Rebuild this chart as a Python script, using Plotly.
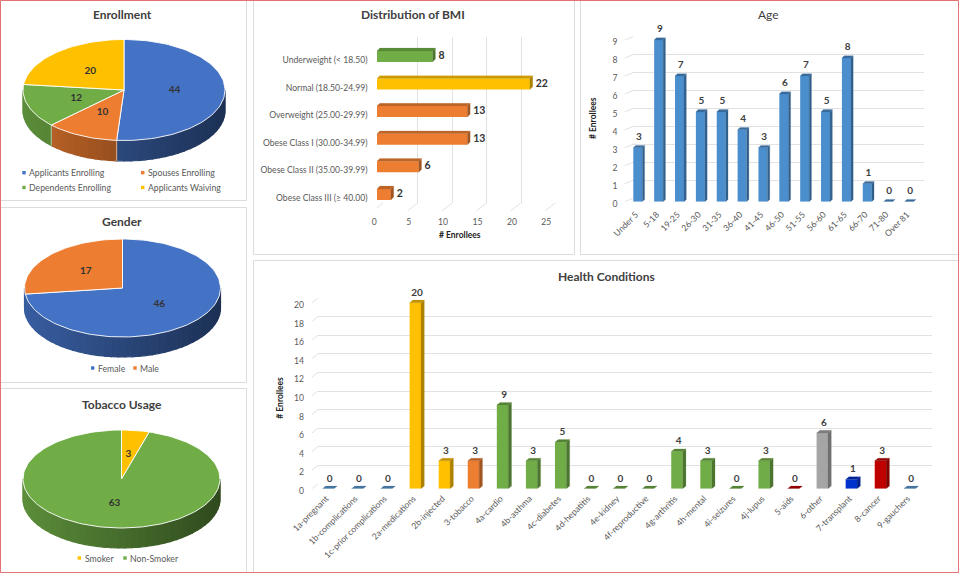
import math
import plotly.graph_objects as go

# ---------- data ----------
enroll_labels = ["Applicants Enrolling", "Spouses Enrolling", "Dependents Enrolling", "Applicants Waiving"]
enroll_values = [44, 10, 12, 20]
gender_labels = ["Female", "Male"]
gender_values = [46, 17]
tobacco_labels = ["Smoker", "Non-Smoker"]
tobacco_values = [3, 63]

bmi_labels = ["Underweight (< 18.50)", "Normal (18.50-24.99)", "Overweight (25.00-29.99)",
              "Obese Class I (30.00-34.99)", "Obese Class II (35.00-39.99)", "Obese Class III (≥ 40.00)"]
bmi_values = [8, 22, 13, 13, 6, 2]

age_labels = ["Under 5", "5-18", "19-25", "26-30", "31-35", "36-40", "41-45", "46-50",
              "51-55", "56-60", "61-65", "66-70", "71-80", "Over 81"]
age_values = [3, 9, 7, 5, 5, 4, 3, 6, 7, 5, 8, 1, 0, 0]

health_labels = ["1a-pregnant", "1b-complications", "1c-prior complications", "2a-medications",
                 "2b-injected", "3-tobacco", "4a-cardio", "4b-asthma", "4c-diabetes", "4d-hepatitis",
                 "4e-kidney", "4f-reproductive", "4g-arthritis", "4h-mental", "4i-seizures", "4j-lupus",
                 "5-aids", "6-other", "7-transplant", "8-cancer", "9-gauchers"]
health_values = [0, 0, 0, 20, 3, 3, 9, 3, 5, 0, 0, 0, 4, 3, 0, 3, 0, 6, 1, 3, 0]

BLUE, ORANGE, GREEN, YELLOW = "#4472C4", "#ED7D31", "#70AD47", "#FFC000"
SKY, RED, GRAY, ROYAL, AGEBLUE = "#5B9BD5", "#C00000", "#A5A5A5", "#0033CC", "#4A8ECE"
enroll_colors = [BLUE, ORANGE, GREEN, YELLOW]
gender_colors = [BLUE, ORANGE]
tobacco_colors = [YELLOW, GREEN]
bmi_colors = [GREEN, YELLOW, ORANGE, ORANGE, ORANGE, ORANGE]
health_colors = [SKY, SKY, SKY, YELLOW, YELLOW, ORANGE, GREEN, GREEN, GREEN, GREEN, GREEN, GREEN,
                 GREEN, GREEN, GREEN, GREEN, RED, GRAY, ROYAL, RED, SKY]

W, H = 960, 575
FONT = "Lato"
GRID = "#E2E2E2"
TICK = "#595959"
DARK = "#404040"

fig = go.Figure()
layout = {}
shapes = []
notes = []
axis_count = [0]


def fx(p):
    return p / W


def fy(p):
    return 1 - p / H


def shade(color, f):
    r, g, b = int(color[1:3], 16), int(color[3:5], 16), int(color[5:7], 16)
    return f"rgb({int(r*f)},{int(g*f)},{int(b*f)})"


def add_axes(xdom, ydom, xopts, yopts):
    """xdom / ydom in screen pixels (ydom = top, bottom)."""
    axis_count[0] += 1
    n = axis_count[0]
    sx = "" if n == 1 else str(n)
    base = dict(showgrid=False, zeroline=False, showline=False, ticks="", fixedrange=True, automargin=False,
                tickfont=dict(family=FONT, size=8.6, color=TICK))
    layout[f"xaxis{sx}"] = {**base, "domain": [fx(xdom[0]), fx(xdom[1])], "anchor": f"y{sx}", **xopts}
    layout[f"yaxis{sx}"] = {**base, "domain": [fy(ydom[1]), fy(ydom[0])], "anchor": f"x{sx}", **yopts}
    return f"x{sx}", f"y{sx}"


def note(x, y, text, size=9, color=TICK, bold=False, xanchor="center", angle=0):
    notes.append(dict(x=fx(x), y=fy(y), xref="paper", yref="paper", text=f"<b>{text}</b>" if bold else text,
                      showarrow=False, xanchor=xanchor, yanchor="middle", textangle=angle,
                      font=dict(family=FONT, size=size, color=color)))


def panel(x0, y0, x1, y1):
    shapes.append(dict(type="rect", xref="paper", yref="paper", x0=fx(x0), x1=fx(x1), y0=fy(y1), y1=fy(y0),
                       fillcolor="white", line=dict(color="#DCDCDC", width=1), layer="below"))


def legend_item(x, y, color, text):
    shapes.append(dict(type="rect", xref="paper", yref="paper", x0=fx(x - 1.7), x1=fx(x + 1.7),
                       y0=fy(y + 1.7), y1=fy(y - 1.7), fillcolor=color, line=dict(width=0)))
    note(x + 3.4, y, text, size=8.7, color=TICK, xanchor="left")


def poly(xs, ys, color, xa, ya, line=None, width=0.6):
    fig.add_trace(go.Scatter(x=xs, y=ys, xaxis=xa, yaxis=ya, mode="lines", fill="toself", fillcolor=color,
                             line=dict(color=line or color, width=width), hoverinfo="skip", showlegend=False))


def pie(values, colors, cx, cy, rx, ry, depth):
    xa, ya = add_axes((cx - rx - 3, cx + rx + 3), (cy - ry - 3, cy + ry + depth + 3),
                      dict(range=[-(rx + 3) / rx, (rx + 3) / rx], visible=False),
                      dict(range=[-(ry + depth + 3) / ry, (ry + 3) / ry], visible=False))
    d = depth / ry
    total = sum(values)
    start = 0.0
    slices = []
    for v, c in zip(values, colors):
        end = start + 360.0 * v / total
        slices.append((start, end, c, v))
        start = end
    # side wall: the front half of the rim
    prev = None
    for a0, a1, c, _ in slices:
        lo, hi = max(a0, 90.0), min(a1, 270.0)
        if hi <= lo:
            continue
        wall = c
        if hi - lo < 10 and prev is not None:
            wall = prev  # a hairline of rim takes the colour of its neighbour
        prev = c
        steps = max(2, int((hi - lo) / 4))
        for k in range(steps):
            t0 = math.radians(lo + (hi - lo) * k / steps)
            t1 = math.radians(lo + (hi - lo) * (k + 1) / steps)
            mx = (math.sin(t0) + math.sin(t1)) / 2
            f = 0.82 - 0.195 * (mx + 1)
            poly([math.sin(t0), math.sin(t1), math.sin(t1), math.sin(t0), math.sin(t0)],
                 [math.cos(t0), math.cos(t1), math.cos(t1) - d, math.cos(t0) - d, math.cos(t0)],
                 shade(wall, f), xa, ya, width=1.2)
    # rim seams on the wall
    for a0, a1, c, _ in slices:
        if 90 < a0 < 260:
            t = math.radians(a0)
            fig.add_trace(go.Scatter(x=[math.sin(t), math.sin(t)], y=[math.cos(t), math.cos(t) - d],
                                     xaxis=xa, yaxis=ya, mode="lines", line=dict(color="rgba(255,255,255,0.55)", width=1),
                                     hoverinfo="skip", showlegend=False))
    # top face
    for a0, a1, c, _ in slices:
        n = max(2, int((a1 - a0) / 2))
        ang = [math.radians(a0 + (a1 - a0) * k / n) for k in range(n + 1)]
        poly([0] + [math.sin(t) for t in ang] + [0], [0] + [math.cos(t) for t in ang] + [0],
             c, xa, ya, line="rgba(255,255,255,0.9)", width=1)
    # value labels
    lx, ly, lt = [], [], []
    for a0, a1, c, v in slices:
        t = math.radians((a0 + a1) / 2)
        r = 0.5
        lx.append(r * math.sin(t))
        ly.append(r * math.cos(t))
        lt.append(str(v))
    fig.add_trace(go.Scatter(x=lx, y=ly, xaxis=xa, yaxis=ya, mode="text", text=lt, textposition="middle center",
                             textfont=dict(family=FONT, size=10, color="#333333", weight="bold"),
                             hoverinfo="skip", showlegend=False))


def vbars(cats, values, colors, c0, pitch, bar_w, y0, ppu, ymax, major, bdx, bdy,
          gx0, gx1, gdy, floor_x0, floor_dx, tick_axis_x, tick_axis_y, label_offset=6):
    n = len(cats)
    # back wall
    ba_x, ba_y = add_axes((gx0, gx1), (y0 - gdy - ymax * ppu, y0 - gdy),
                          dict(range=[0, 1], visible=False),
                          dict(range=[0, ymax], showgrid=True, gridcolor=GRID, gridwidth=1,
                               tickvals=list(range(0, ymax + 1, major)), showticklabels=False))
    fig.add_trace(go.Scatter(x=[0], y=[0], xaxis=ba_x, yaxis=ba_y, mode="none", hoverinfo="skip", showlegend=False))
    # bars
    xL, xR = c0 - pitch * 1.0, c0 + pitch * n
    xa, ya = add_axes((xL, xR), (y0 - (ymax + 1) * ppu, y0),
                      dict(range=[-1, n], visible=False),
                      dict(range=[0, ymax + 1], visible=False))
    hw = bar_w / pitch / 2
    dx, dy = bdx / pitch, bdy / ppu
    # floor ticks
    fxs, fys = [], []
    for v in range(0, ymax + 1, major):
        a = (floor_x0 - c0) / pitch
        fxs += [a, a + floor_dx / pitch, None]
        fys += [v, v + gdy / ppu, None]
    fig.add_trace(go.Scatter(x=fxs, y=fys, xaxis=xa, yaxis=ya, mode="lines", line=dict(color=GRID, width=1),
                             hoverinfo="skip", showlegend=False, cliponaxis=False))
    fig.add_trace(go.Bar(x=list(range(n)), y=values, xaxis=xa, yaxis=ya, width=bar_w / pitch,
                         marker=dict(color=colors, line=dict(width=0)), hoverinfo="skip", showlegend=False))
    for i, (v, c) in enumerate(zip(values, colors)):
        poly([i + hw, i + hw + dx, i + hw + dx, i + hw, i + hw], [0, dy, v + dy, v, 0], shade(c, 0.68), xa, ya, width=0.2)
        poly([i - hw, i + hw, i + hw + dx, i - hw + dx, i - hw], [v, v, v + dy, v + dy, v], shade(c, 0.76), xa, ya, width=0.2)
    fig.add_trace(go.Scatter(x=[i + dx / 2 for i in range(n)], y=[v + dy + label_offset / ppu for v in values],
                             xaxis=xa, yaxis=ya, mode="text", text=[str(v) for v in values], textposition="top center",
                             textfont=dict(family=FONT, size=10, color="#404040", weight="bold"), hoverinfo="skip",
                             showlegend=False, cliponaxis=False))
    # tick labels
    la_x, la_y = add_axes((xL - 2, xR - 2), (y0 + 2.3 - ymax * ppu, y0 + 2.3),
                          dict(range=[-1, n], tickmode="array", tickvals=list(range(n)), ticktext=cats,
                               tickangle=-45, anchor="free", position=fy(tick_axis_y)),
                          dict(range=[0, ymax], tickmode="array", tickvals=list(range(0, ymax + 1, major)),
                               anchor="free", position=fx(tick_axis_x)))
    fig.add_trace(go.Scatter(x=[0], y=[0], xaxis=la_x, yaxis=la_y, mode="none", hoverinfo="skip", showlegend=False))


def hbars(cats, values, colors):
    n = len(cats)
    c0, pitch = 56.4, 27.6
    x0, ppu = 377.0, 6.95
    xmax = 25
    bdx, bdy, bar_h = 2.8, 2.8, 11.0
    # back wall
    ba_x, ba_y = add_axes((383.3, 383.3 + 25 * 6.91), (37, 203),
                          dict(range=[0, xmax], showgrid=True, gridcolor=GRID, gridwidth=1,
                               tickvals=list(range(0, xmax + 1, 5)), showticklabels=False),
                          dict(range=[0, 1], visible=False))
    fig.add_trace(go.Scatter(x=[0], y=[0], xaxis=ba_x, yaxis=ba_y, mode="none", hoverinfo="skip", showlegend=False))
    # bars
    yT, yB = c0 - pitch, c0 + pitch * n
    xa, ya = add_axes((x0, x0 + (xmax + 3) * ppu), (yT, yB),
                      dict(range=[0, xmax + 3], visible=False),
                      dict(range=[n, -1], visible=False))
    dx, dy = bdx / ppu, bdy / pitch
    hh = bar_h / pitch / 2
    # floor ticks
    fxs, fys = [], []
    for v in range(0, xmax + 1, 5):
        a = v * 6.88 / ppu + (373.3 - x0) / ppu
        fxs += [a, a + 10 / ppu, None]
        fys += [(210.7 - c0) / pitch, (203 - c0) / pitch, None]
    fig.add_trace(go.Scatter(x=fxs, y=fys, xaxis=xa, yaxis=ya, mode="lines", line=dict(color=GRID, width=1),
                             hoverinfo="skip", showlegend=False, cliponaxis=False))
    fig.add_trace(go.Bar(x=values, y=list(range(n)), orientation="h", xaxis=xa, yaxis=ya, width=bar_h / pitch,
                         marker=dict(color=colors, line=dict(width=0)), hoverinfo="skip", showlegend=False))
    for i, (v, c) in enumerate(zip(values, colors)):
        poly([v, v + dx, v + dx, v, v], [i + hh, i + hh - dy, i - hh - dy, i - hh, i + hh], shade(c, 0.68), xa, ya, width=0.2)
        poly([0, v, v + dx, dx, 0], [i - hh, i - hh, i - hh - dy, i - hh - dy, i - hh], shade(c, 0.8), xa, ya, width=0.2)
    fig.add_trace(go.Scatter(x=[v + dx + 3 / ppu for v in values], y=list(range(n)), xaxis=xa, yaxis=ya, mode="text",
                             text=[str(v) for v in values], textposition="middle right",
                             textfont=dict(family=FONT, size=10.5, color="#333333", weight="bold"),
                             hoverinfo="skip", showlegend=False, cliponaxis=False))
    # tick labels
    la_x, la_y = add_axes((374.3, 374.3 + 25 * 6.88), (c0 + 3.5 - pitch, c0 + 3.5 + pitch * n),
                          dict(range=[0, xmax], tickmode="array", tickvals=list(range(0, xmax + 1, 5)),
                               anchor="free", position=fy(215)),
                          dict(range=[n, -1], tickmode="array", tickvals=list(range(n)), ticktext=cats,
                               anchor="free", position=fx(367.5)))
    fig.add_trace(go.Scatter(x=[0], y=[0], xaxis=la_x, yaxis=la_y, mode="none", hoverinfo="skip", showlegend=False))


# ---------- panels ----------
panel(0.5, 0.5, 246.5, 200.5)
panel(0.5, 207.5, 246.5, 382.5)
panel(0.5, 388.5, 246.5, 572.5)
panel(253.5, 0.5, 574.5, 254.5)
panel(580.5, 0.5, 958.5, 254.5)
panel(253.5, 260.5, 958.5, 572.5)
shapes.append(dict(type="rect", xref="paper", yref="paper", x0=fx(0.5), x1=fx(958.5), y0=fy(572.5), y1=fy(0.5),
                   line=dict(color="#E57373", width=1), fillcolor="rgba(0,0,0,0)", layer="above"))

# ---------- pies ----------
pie(enroll_values, enroll_colors, 124, 90, 101, 50.5, 20.5)
pie(gender_values, gender_colors, 122.5, 288, 98, 49, 20)
pie(tobacco_values, tobacco_colors, 121.5, 479, 98.5, 49, 20)

note(122, 15, "Enrollment", size=12, color=DARK, bold=True)
note(122.5, 222, "Gender", size=12, color=DARK, bold=True)
note(122.5, 404, "Tobacco Usage", size=12, color=DARK, bold=True)

legend_item(24, 172.7, enroll_colors[0], enroll_labels[0])
legend_item(142.7, 172.7, enroll_colors[1], enroll_labels[1])
legend_item(24, 187.5, enroll_colors[2], enroll_labels[2])
legend_item(142.7, 187.5, enroll_colors[3], enroll_labels[3])
legend_item(92.7, 368, gender_colors[0], gender_labels[0])
legend_item(135, 368, gender_colors[1], gender_labels[1])
legend_item(79.3, 558, tobacco_colors[0], tobacco_labels[0])
legend_item(125, 558, tobacco_colors[1], tobacco_labels[1])

# ---------- bars ----------
hbars(bmi_labels, bmi_values, bmi_colors)
note(413, 15, "Distribution of BMI", size=12, color=DARK, bold=True)
note(460, 235, "# Enrollees", size=8.5, color="#222222", bold=True)

vbars(age_labels, age_values, [AGEBLUE] * len(age_values), 637.8, 20.86, 9.0, 201.7, 17.96, 9, 1, 2.3, 2.3,
      633, 924, 3.4, 624.7, 8.3, 617.5, 207, label_offset=3)
note(768, 15, "Age", size=12, color=DARK, bold=False)
note(593, 118, "# Enrollees", size=8.5, color="#222222", bold=True, angle=-90)

vbars(health_labels, health_values, health_colors, 328.1, 29.07, 11.4, 488.7, 9.3, 20, 2, 3.3, 2.6,
      318, 932, 4.7, 312, 6, 304, 491, label_offset=2)
note(606, 276, "Health Conditions", size=12, color=DARK, bold=True)
note(280, 397.7, "# Enrollees", size=8.5, color="#222222", bold=True, angle=-90)

fig.update_layout(template="none", width=W, height=H, autosize=False,
                  margin=dict(l=0, r=0, t=0, b=0, pad=0, autoexpand=False),
                  paper_bgcolor="white", plot_bgcolor="rgba(0,0,0,0)", showlegend=False,
                  shapes=shapes, annotations=notes, barmode="overlay", **layout)

fig.write_html("out.html", config={"displayModeBar": False},
               post_script="document.documentElement.style.overflow='hidden';document.body.style.margin='0';document.body.style.padding='0';")
